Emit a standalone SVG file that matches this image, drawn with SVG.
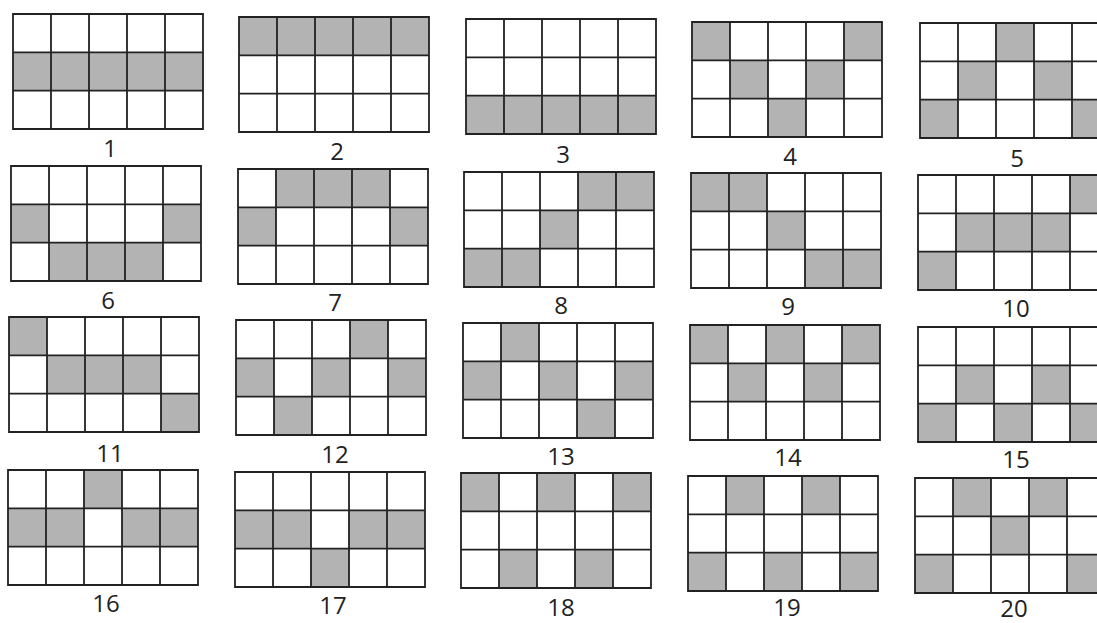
<svg xmlns="http://www.w3.org/2000/svg" xmlns:xlink="http://www.w3.org/1999/xlink" width="1097" height="623" viewBox="0 0 1097 623">
<style>
.s{fill:#b3b3b3}
.gl{fill:none;stroke:#222;stroke-width:1.8}
.lb{font-family:"Open Sans","Liberation Sans",sans-serif;font-size:24px;fill:#222;text-anchor:middle}
</style>
<defs>
<path id="grid" class="gl" d="M0,0H190V115H0Z M38,0V115 M76,0V115 M114,0V115 M152,0V115 M0,38.3H190 M0,76.7H190"/>
</defs>
<rect width="1097" height="623" fill="#fff"/>
<g id="n1" transform="translate(13,14)"><rect class="s" x="0" y="38.3" width="190" height="38.4"/><use xlink:href="#grid"/></g>
<g id="n2" transform="translate(239,17)"><rect class="s" x="0" y="0" width="190" height="38.3"/><use xlink:href="#grid"/></g>
<g id="n3" transform="translate(466,19)"><rect class="s" x="0" y="76.7" width="190" height="38.3"/><use xlink:href="#grid"/></g>
<g id="n4" transform="translate(692,22)"><rect class="s" x="0" y="0" width="38" height="38.3"/><rect class="s" x="152" y="0" width="38" height="38.3"/><rect class="s" x="38" y="38.3" width="38" height="38.4"/><rect class="s" x="114" y="38.3" width="38" height="38.4"/><rect class="s" x="76" y="76.7" width="38" height="38.3"/><use xlink:href="#grid"/></g>
<g id="n5" transform="translate(920,23)"><rect class="s" x="76" y="0" width="38" height="38.3"/><rect class="s" x="38" y="38.3" width="38" height="38.4"/><rect class="s" x="114" y="38.3" width="38" height="38.4"/><rect class="s" x="0" y="76.7" width="38" height="38.3"/><rect class="s" x="152" y="76.7" width="38" height="38.3"/><use xlink:href="#grid"/></g>
<g id="n6" transform="translate(11,166)"><rect class="s" x="0" y="38.3" width="38" height="38.4"/><rect class="s" x="152" y="38.3" width="38" height="38.4"/><rect class="s" x="38" y="76.7" width="114" height="38.3"/><use xlink:href="#grid"/></g>
<g id="n7" transform="translate(238,169)"><rect class="s" x="38" y="0" width="114" height="38.3"/><rect class="s" x="0" y="38.3" width="38" height="38.4"/><rect class="s" x="152" y="38.3" width="38" height="38.4"/><use xlink:href="#grid"/></g>
<g id="n8" transform="translate(464,172)"><rect class="s" x="114" y="0" width="76" height="38.3"/><rect class="s" x="76" y="38.3" width="38" height="38.4"/><rect class="s" x="0" y="76.7" width="76" height="38.3"/><use xlink:href="#grid"/></g>
<g id="n9" transform="translate(691,173)"><rect class="s" x="0" y="0" width="76" height="38.3"/><rect class="s" x="76" y="38.3" width="38" height="38.4"/><rect class="s" x="114" y="76.7" width="76" height="38.3"/><use xlink:href="#grid"/></g>
<g id="n10" transform="translate(918,175)"><rect class="s" x="152" y="0" width="38" height="38.3"/><rect class="s" x="38" y="38.3" width="114" height="38.4"/><rect class="s" x="0" y="76.7" width="38" height="38.3"/><use xlink:href="#grid"/></g>
<g id="n11" transform="translate(9,317)"><rect class="s" x="0" y="0" width="38" height="38.3"/><rect class="s" x="38" y="38.3" width="114" height="38.4"/><rect class="s" x="152" y="76.7" width="38" height="38.3"/><use xlink:href="#grid"/></g>
<g id="n12" transform="translate(236,320)"><rect class="s" x="114" y="0" width="38" height="38.3"/><rect class="s" x="0" y="38.3" width="38" height="38.4"/><rect class="s" x="76" y="38.3" width="38" height="38.4"/><rect class="s" x="152" y="38.3" width="38" height="38.4"/><rect class="s" x="38" y="76.7" width="38" height="38.3"/><use xlink:href="#grid"/></g>
<g id="n13" transform="translate(463,323)"><rect class="s" x="38" y="0" width="38" height="38.3"/><rect class="s" x="0" y="38.3" width="38" height="38.4"/><rect class="s" x="76" y="38.3" width="38" height="38.4"/><rect class="s" x="152" y="38.3" width="38" height="38.4"/><rect class="s" x="114" y="76.7" width="38" height="38.3"/><use xlink:href="#grid"/></g>
<g id="n14" transform="translate(690,325)"><rect class="s" x="0" y="0" width="38" height="38.3"/><rect class="s" x="76" y="0" width="38" height="38.3"/><rect class="s" x="152" y="0" width="38" height="38.3"/><rect class="s" x="38" y="38.3" width="38" height="38.4"/><rect class="s" x="114" y="38.3" width="38" height="38.4"/><use xlink:href="#grid"/></g>
<g id="n15" transform="translate(918,327)"><rect class="s" x="38" y="38.3" width="38" height="38.4"/><rect class="s" x="114" y="38.3" width="38" height="38.4"/><rect class="s" x="0" y="76.7" width="38" height="38.3"/><rect class="s" x="76" y="76.7" width="38" height="38.3"/><rect class="s" x="152" y="76.7" width="38" height="38.3"/><use xlink:href="#grid"/></g>
<g id="n16" transform="translate(8,470)"><rect class="s" x="76" y="0" width="38" height="38.3"/><rect class="s" x="0" y="38.3" width="76" height="38.4"/><rect class="s" x="114" y="38.3" width="76" height="38.4"/><use xlink:href="#grid"/></g>
<g id="n17" transform="translate(235,472)"><rect class="s" x="0" y="38.3" width="76" height="38.4"/><rect class="s" x="114" y="38.3" width="76" height="38.4"/><rect class="s" x="76" y="76.7" width="38" height="38.3"/><use xlink:href="#grid"/></g>
<g id="n18" transform="translate(461,473)"><rect class="s" x="0" y="0" width="38" height="38.3"/><rect class="s" x="76" y="0" width="38" height="38.3"/><rect class="s" x="152" y="0" width="38" height="38.3"/><rect class="s" x="38" y="76.7" width="38" height="38.3"/><rect class="s" x="114" y="76.7" width="38" height="38.3"/><use xlink:href="#grid"/></g>
<g id="n19" transform="translate(688,476)"><rect class="s" x="38" y="0" width="38" height="38.3"/><rect class="s" x="114" y="0" width="38" height="38.3"/><rect class="s" x="0" y="76.7" width="38" height="38.3"/><rect class="s" x="76" y="76.7" width="38" height="38.3"/><rect class="s" x="152" y="76.7" width="38" height="38.3"/><use xlink:href="#grid"/></g>
<g id="n20" transform="translate(915,478)"><rect class="s" x="38" y="0" width="38" height="38.3"/><rect class="s" x="114" y="0" width="38" height="38.3"/><rect class="s" x="76" y="38.3" width="38" height="38.4"/><rect class="s" x="0" y="76.7" width="38" height="38.3"/><rect class="s" x="152" y="76.7" width="38" height="38.3"/><use xlink:href="#grid"/></g>
<g id="labels">
<text class="lb" x="110" y="157">1</text>
<text class="lb" x="337" y="160">2</text>
<text class="lb" x="563" y="163">3</text>
<text class="lb" x="790" y="165">4</text>
<text class="lb" x="1017" y="167">5</text>
<text class="lb" x="108" y="309">6</text>
<text class="lb" x="335" y="311">7</text>
<text class="lb" x="561" y="314">8</text>
<text class="lb" x="788" y="315">9</text>
<text class="lb" x="1016" y="317">10</text>
<text class="lb" x="110" y="462">11</text>
<text class="lb" x="335" y="463">12</text>
<text class="lb" x="561" y="465">13</text>
<text class="lb" x="788" y="466">14</text>
<text class="lb" x="1016" y="468">15</text>
<text class="lb" x="106" y="612">16</text>
<text class="lb" x="333" y="614">17</text>
<text class="lb" x="561" y="616">18</text>
<text class="lb" x="787" y="616">19</text>
<text class="lb" x="1014" y="617">20</text>
</g>
</svg>
